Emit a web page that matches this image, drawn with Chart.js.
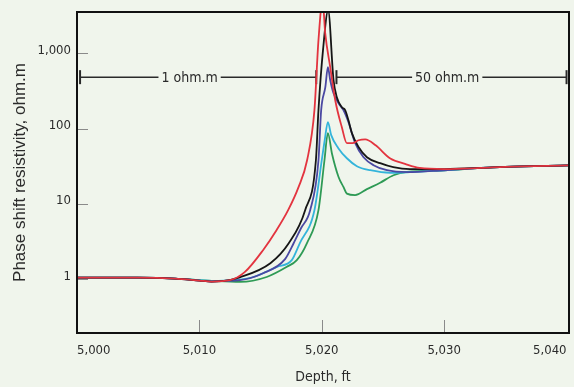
<!DOCTYPE html>
<html>
<head>
<meta charset="utf-8">
<script src="https://cdn.jsdelivr.net/npm/chart.js@4.4.1/dist/chart.umd.min.js"></script>
<style>
  html, body { margin: 0; padding: 0; background: #f0f5ec; }
  canvas { display: block; }
</style>
</head>
<body>
<canvas id="resChart" width="574" height="387"></canvas>
<script>
// depth (ft) and phase shift resistivity (ohm.m) for each curve
const redDepth = [5000, 5005, 5008, 5010, 5011, 5012.5, 5013.7, 5015.2, 5016.3, 5017.25, 5018.1, 5018.8, 5019.4, 5019.73, 5020.07, 5020.28, 5020.69, 5021.1, 5021.64, 5022.05, 5022.5, 5023.0, 5023.55, 5024.4, 5025.6, 5026.8, 5028, 5030, 5033, 5035, 5040.2];
const redRes = [1.05, 1.05, 1.02, 0.96, 0.93, 0.97, 1.24, 2.43, 4.47, 8.25, 16.7, 38, 176, 1493, 5000, 1849, 654, 238, 104, 64, 64, 70, 72, 60, 40, 34, 30, 29, 30, 31, 32.5];

const blackDepth = [5000, 5005, 5008, 5010, 5011, 5012, 5013.3, 5015.8, 5017.3, 5018.64, 5019.52, 5019.73, 5020.1, 5020.52, 5020.96, 5021.23, 5021.64, 5021.91, 5022.18, 5022.46, 5023.0, 5023.69, 5024.77, 5025.84, 5027.2, 5030, 5033, 5035, 5040.2];
const blackRes = [1.05, 1.05, 1.02, 0.96, 0.93, 0.95, 1.06, 1.63, 3.0, 8.25, 38, 176, 1099, 3700, 439, 261, 192, 176, 129, 87, 57, 41.7, 34.7, 30.7, 28.9, 29, 30, 31, 32.5];

const blueDepth = [5000, 5005, 5008, 5010, 5011, 5012, 5013.3, 5015.2, 5017.0, 5017.7, 5018.3, 5019.05, 5019.73, 5019.95, 5020.29, 5020.5, 5020.69, 5020.96, 5021.37, 5021.77, 5022.18, 5022.73, 5023.41, 5024.23, 5025.32, 5026.96, 5030, 5033, 5035, 5040.2];
const blueRes = [1.05, 1.05, 1.02, 0.96, 0.93, 0.95, 0.97, 1.2, 1.85, 3.0, 4.75, 8.25, 38, 176, 355, 654, 439, 295, 217, 176, 122, 64, 41.7, 32.7, 28, 26.4, 28, 30, 31, 32.5];

const cyanDepth = [5000, 5005, 5008, 5010, 5011, 5012.78, 5014.42, 5016.33, 5017.55, 5018.2, 5019.4, 5020.0, 5020.24, 5020.5, 5020.77, 5021.35, 5022.05, 5022.87, 5023.96, 5025.6, 5027.2, 5030, 5033, 5035, 5040.2];
const cyanRes = [1.05, 1.05, 1.02, 0.97, 0.95, 0.97, 1.07, 1.46, 1.79, 3.0, 8.25, 38, 70, 122, 82, 55, 40.4, 31.7, 28, 25.9, 26.4, 28, 30, 31, 32.5];

const greenDepth = [5000, 5005, 5008, 5010, 5011, 5013.33, 5015.5, 5017.15, 5017.96, 5018.78, 5019.73, 5020.22, 5020.5, 5020.83, 5021.37, 5021.77, 5022.05, 5022.73, 5023.69, 5024.77, 5025.86, 5026.96, 5030, 5033, 5035, 5040.2];
const greenRes = [1.05, 1.05, 1.02, 0.97, 0.95, 0.92, 1.07, 1.46, 1.79, 3.0, 8.25, 38, 87, 46.8, 22.8, 16.8, 13.7, 13.1, 15.7, 19.1, 24, 26.6, 28, 30, 31, 32.5];

const depthTicks = [5000, 5010, 5020, 5030, 5040];
const resTicks = [1, 10, 100, 1000];

// bed markers drawn across the top
const zoneLabels = ['1 ohm.m', '50 ohm.m'];
const zoneStart = [5000.25, 5021.2];
const zoneEnd = [5019.55, 5040.0];
const zoneLabelAt = [5009.2, 5030.25];
const zoneLevel = 482;

const narrow = '"DejaVu Sans Condensed", "Liberation Sans Narrow", sans-serif';
const bg = '#f0f5ec';

function pairs(xs, ys) {
    return xs.map((x, i) => ({ x: x, y: ys[i] }));
}

function curve(label, xs, ys, color) {
    return {
        label: label,
        data: pairs(xs, ys),
        borderColor: color,
        borderWidth: 1.8,
        pointRadius: 0,
        cubicInterpolationMode: 'monotone',
        fill: false
    };
}

const framePlugin = {
    id: 'frame',
    beforeDatasetsDraw(chart) {
        const ctx = chart.ctx;
        const area = chart.chartArea;
        const xs = chart.scales.x;
        const ys = chart.scales.y;
        ctx.save();
        // inner tick marks
        ctx.strokeStyle = '#8a8a8a';
        ctx.lineWidth = 1;
        resTicks.forEach(v => {
            const py = Math.round(ys.getPixelForValue(v)) + 0.5;
            ctx.beginPath();
            ctx.moveTo(area.left, py);
            ctx.lineTo(area.left + 11, py);
            ctx.stroke();
        });
        depthTicks.slice(1, -1).forEach(v => {
            const px = Math.round(xs.getPixelForValue(v)) + 0.5;
            ctx.beginPath();
            ctx.moveTo(px, area.bottom);
            ctx.lineTo(px, area.bottom - 13);
            ctx.stroke();
        });

        // zone markers
        const py = ys.getPixelForValue(zoneLevel);
        ctx.strokeStyle = '#2a2a2a';
        ctx.font = '14px ' + narrow;
        ctx.textAlign = 'center';
        ctx.textBaseline = 'middle';
        zoneLabels.forEach((text, i) => {
            const x1 = xs.getPixelForValue(zoneStart[i]);
            const x2 = xs.getPixelForValue(zoneEnd[i]);
            const xt = xs.getPixelForValue(zoneLabelAt[i]);
            ctx.lineWidth = 1.5;
            ctx.beginPath();
            ctx.moveTo(x1, py);
            ctx.lineTo(x2, py);
            ctx.stroke();
            ctx.lineWidth = 2;
            [x1, x2].forEach(x => {
                ctx.beginPath();
                ctx.moveTo(x, py - 7);
                ctx.lineTo(x, py + 7);
                ctx.stroke();
            });
            const w = ctx.measureText(text).width;
            ctx.fillStyle = bg;
            ctx.fillRect(xt - w / 2 - 3, py - 8, w + 6, 16);
            ctx.fillStyle = '#2a2a2a';
            ctx.fillText(text, xt, py + 1);
        });
        ctx.restore();
    },
    afterDraw(chart) {
        const ctx = chart.ctx;
        const area = chart.chartArea;
        ctx.save();
        ctx.strokeStyle = '#111';
        ctx.lineWidth = 2;
        ctx.strokeRect(area.left, area.top, area.right - area.left, area.bottom - area.top);
        ctx.restore();
    }
};

const ctx = document.getElementById('resChart').getContext('2d');
new Chart(ctx, {
    type: 'line',
    data: {
        datasets: [
            curve('red', redDepth, redRes, '#e3343f'),
            curve('black', blackDepth, blackRes, '#161616'),
            curve('blue', blueDepth, blueRes, '#4a48a2'),
            curve('cyan', cyanDepth, cyanRes, '#33b4da'),
            curve('green', greenDepth, greenRes, '#2e9a55')
        ]
    },
    options: {
        responsive: false,
        devicePixelRatio: 1,
        animation: false,
        layout: { padding: { top: 12, right: 5, left: 0, bottom: 0 } },
        plugins: {
            legend: { display: false },
            tooltip: { enabled: false }
        },
        scales: {
            x: {
                type: 'linear',
                min: 5000,
                max: 5040.2,
                afterBuildTicks: scale => { scale.ticks = depthTicks.map(v => ({ value: v })); },
                afterFit: scale => {
                    scale.height = 54;
                    scale.paddingLeft = 0;
                    scale.paddingRight = 0;
                },
                grid: { display: false, drawTicks: false },
                border: { display: false },
                ticks: {
                    align: 'inner',
                    padding: 10,
                    color: '#2b2b2b',
                    font: { family: narrow, size: 13 },
                    callback: v => v.toLocaleString('en-US')
                },
                title: {
                    display: true,
                    text: 'Depth, ft',
                    color: '#2b2b2b',
                    padding: { top: 0, bottom: 1 },
                    font: { family: narrow, size: 14 }
                }
            },
            y: {
                type: 'logarithmic',
                min: 0.193,
                max: 3535,
                afterBuildTicks: scale => { scale.ticks = resTicks.map(v => ({ value: v })); },
                afterFit: scale => {
                    scale.width = 77;
                    scale.paddingTop = 0;
                    scale.paddingBottom = 0;
                },
                grid: { display: false, drawTicks: false },
                border: { display: false },
                ticks: {
                    padding: 6,
                    labelOffset: -3,
                    color: '#2b2b2b',
                    font: { family: narrow, size: 13 },
                    callback: v => v.toLocaleString('en-US')
                },
                title: {
                    display: true,
                    text: 'Phase shift resistivity, ohm.m',
                    color: '#2b2b2b',
                    padding: { top: 10, bottom: 0 },
                    font: { family: '"Liberation Sans", Arial, sans-serif', size: 17 }
                }
            }
        }
    },
    plugins: [framePlugin]
});
</script>
</body>
</html>
